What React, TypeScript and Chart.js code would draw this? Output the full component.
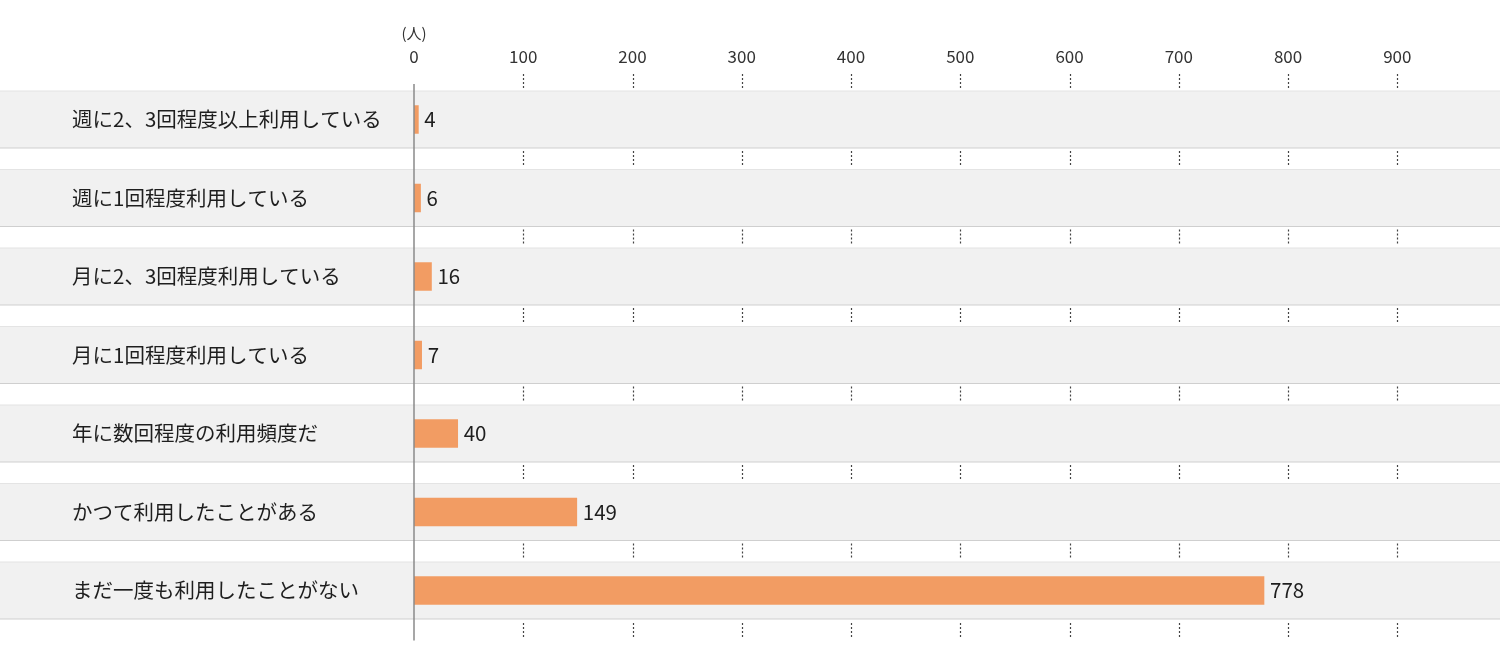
import React, { useEffect, useRef } from "react";
import { Chart, registerables } from "chart.js";

Chart.register(...registerables);

const categories = [
  "週に2、3回程度以上利用している",
  "週に1回程度利用している",
  "月に2、3回程度利用している",
  "月に1回程度利用している",
  "年に数回程度の利用頻度だ",
  "かつて利用したことがある",
  "まだ一度も利用したことがない",
];
const values = [4, 6, 16, 7, 40, 149, 778];
const tickValues = [0, 100, 200, 300, 400, 500, 600, 700, 800, 900];
const unitLabel = "(人)";
const axisMax = 994;

const FONT = '"Noto Sans CJK JP", "Noto Sans", sans-serif';

const decorPlugin = {
  id: "decor",
  beforeDatasetsDraw(chart: any) {
    const { ctx } = chart;
    const ys = chart.scales.y;
    const xs = chart.scales.x;
    const W = chart.width;
    const half = 28.5;
    ctx.save();
    const bands: number[][] = [];
    categories.forEach((_, i) => {
      const cy = ys.getPixelForValue(i);
      const t = cy - half;
      const b = cy + half;
      bands.push([t, b]);
      ctx.fillStyle = "#f1f1f1";
      ctx.fillRect(0, t, W, b - t);
      ctx.fillStyle = "#e4e4e4";
      ctx.fillRect(0, t - 0.5, W, 1);
      ctx.fillStyle = "#cfcfcf";
      ctx.fillRect(0, b - 0.5, W, 1);
    });
    const gaps: number[][] = [];
    gaps.push([bands[0][0] - 17, bands[0][0] - 3]);
    for (let i = 0; i < bands.length - 1; i++) {
      gaps.push([bands[i][1] + 3, bands[i + 1][0] - 3]);
    }
    gaps.push([bands[bands.length - 1][1] + 4, bands[bands.length - 1][1] + 20]);
    ctx.strokeStyle = "#444";
    ctx.lineWidth = 1.2;
    ctx.setLineDash([2, 2]);
    tickValues.forEach((v) => {
      if (v === 0) return;
      const x = Math.round(xs.getPixelForValue(v)) + 0.5;
      gaps.forEach(([a, b]) => {
        ctx.beginPath();
        ctx.moveTo(x, a);
        ctx.lineTo(x, b);
        ctx.stroke();
      });
    });
    ctx.setLineDash([]);
    ctx.restore();
  },
  afterDatasetsDraw(chart: any) {
    const { ctx } = chart;
    const ys = chart.scales.y;
    const xs = chart.scales.x;
    const x0 = xs.getPixelForValue(0);
    ctx.save();
    ctx.strokeStyle = "#8a8a8a";
    ctx.lineWidth = 1.5;
    ctx.beginPath();
    ctx.moveTo(x0, 84);
    ctx.lineTo(x0, ys.getPixelForValue(categories.length - 1) + 50);
    ctx.stroke();
    ctx.fillStyle = "#333";
    ctx.font = `15px ${FONT}`;
    ctx.textAlign = "center";
    ctx.textBaseline = "middle";
    ctx.fillText(unitLabel, x0, 33);
    ctx.font = `20.5px ${FONT}`;
    ctx.fillStyle = "#1e1e1e";
    ctx.textAlign = "left";
    categories.forEach((c, i) => {
      ctx.fillText(c, 72, ys.getPixelForValue(i));
    });
    const meta = chart.getDatasetMeta(0);
    meta.data.forEach((el: any, i: number) => {
      ctx.fillText(String(values[i]), el.x + 6, el.y);
    });
    ctx.restore();
  },
};

export default function App() {
  const ref = useRef<HTMLCanvasElement>(null);
  useEffect(() => {
    document.body.style.margin = "0";
    const chart = new Chart(ref.current!, {
      type: "bar",
      data: {
        labels: categories,
        datasets: [
          {
            data: values,
            backgroundColor: "#f29c63",
            barThickness: 28,
            borderWidth: 0,
          },
        ],
      },
      options: {
        indexAxis: "y",
        animation: false,
        responsive: true,
        maintainAspectRatio: false,
        layout: { padding: { left: 414, right: 0, top: 0, bottom: 38.25 } },
        plugins: { legend: { display: false }, tooltip: { enabled: false } },
        scales: {
          x: {
            type: "linear",
            position: "top",
            min: 0,
            max: axisMax,
            grid: { display: false, drawTicks: false },
            border: { display: false },
            ticks: {
              autoSkip: false,
              maxRotation: 0,
              minRotation: 0,
              color: "#333",
              font: { size: 17, family: FONT },
              padding: 14,
              callback: (v: any) => String(v),
            },
            afterBuildTicks: (scale: any) => {
              scale.ticks = tickValues.map((v) => ({ value: v }));
            },
            afterFit: (scale: any) => {
              scale.height = 80.25;
            },
          },
          y: {
            display: false,
          },
        },
      },
      plugins: [decorPlugin],
    });
    return () => chart.destroy();
  }, []);
  return (
    <div style={{ width: 1500, height: 668, position: "relative" }}>
      <canvas ref={ref} />
    </div>
  );
}
